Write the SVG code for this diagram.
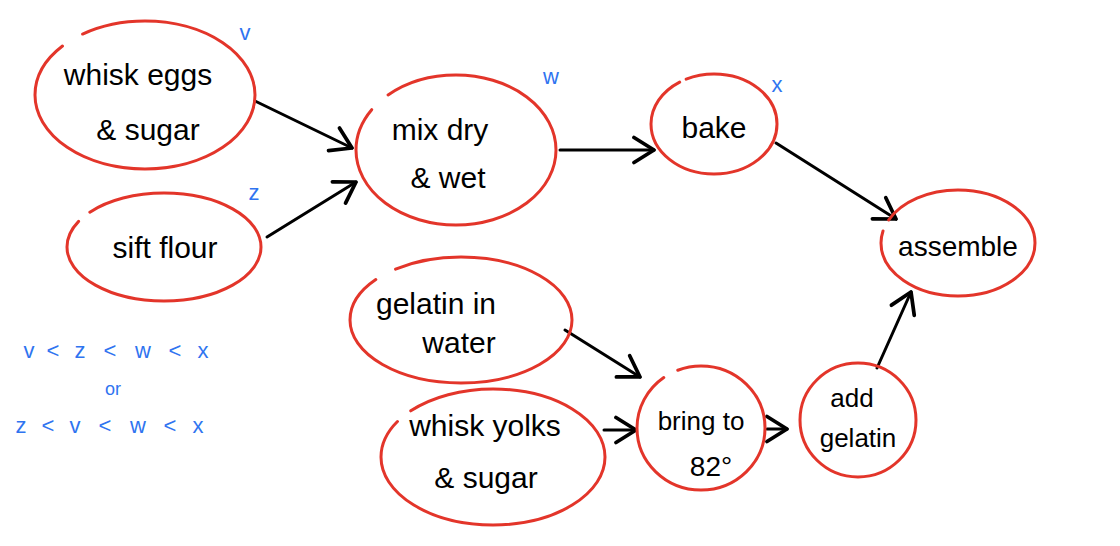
<svg xmlns="http://www.w3.org/2000/svg" width="1120" height="546" viewBox="0 0 1120 546">
<style>
.n{fill:none;stroke:#e3352a;stroke-width:3;stroke-linecap:round}
.t{font-family:"Liberation Sans",Arial,sans-serif;font-size:30px;fill:#000;text-anchor:middle}
.b{font-family:"Liberation Sans",Arial,sans-serif;font-size:22px;fill:#2f74f0;text-anchor:middle}
.e{fill:none;stroke:#000;stroke-width:3;stroke-linecap:round}
</style>
<defs>
<marker id="ah" markerUnits="userSpaceOnUse" markerWidth="30" markerHeight="30" viewBox="0 0 24 24" refX="20" refY="12" orient="auto">
<path d="M4,2 L20,12 L4,22" fill="none" stroke="#000" stroke-width="3" stroke-linecap="round" stroke-linejoin="round"/>
</marker>
</defs>
<rect width="1120" height="546" fill="#fff"/>
<g id="connectors">
<line class="e" x1="255" y1="101" x2="352" y2="148" marker-end="url(#ah)"/>
<line class="e" x1="267" y1="237" x2="356" y2="182" marker-end="url(#ah)"/>
<line class="e" x1="560" y1="150" x2="654" y2="150" marker-end="url(#ah)"/>
<line class="e" x1="776" y1="143" x2="896" y2="219" marker-end="url(#ah)"/>
<line class="e" x1="565" y1="330" x2="640" y2="377" marker-end="url(#ah)"/>
<line class="e" x1="604" y1="430" x2="636" y2="430" marker-end="url(#ah)"/>
<line class="e" x1="767" y1="429" x2="787" y2="429" marker-end="url(#ah)"/>
<line class="e" x1="877" y1="368" x2="911" y2="292" marker-end="url(#ah)"/>
</g>
<g id="n1"><ellipse class="n" cx="145" cy="95" rx="110" ry="74" pathLength="100" stroke-dasharray="96 4" stroke-dashoffset="36"/>
<text class="t" x="138" y="85">whisk eggs</text><text class="t" x="148" y="140">&amp; sugar</text></g>
<g id="n2"><ellipse class="n" cx="164" cy="247" rx="97" ry="54" pathLength="100" stroke-dasharray="97 3" stroke-dashoffset="41"/>
<text class="t" x="165" y="258">sift flour</text></g>
<g id="n3"><ellipse class="n" cx="456" cy="150" rx="100" ry="75" pathLength="100" stroke-dasharray="96 4" stroke-dashoffset="38"/>
<text class="t" x="440" y="140">mix dry</text><text class="t" x="448" y="188">&amp; wet</text></g>
<g id="n4"><ellipse class="n" cx="714" cy="124" rx="63" ry="50" pathLength="100" stroke-dasharray="98 2" stroke-dashoffset="33"/>
<text class="t" x="714" y="138">bake</text></g>
<g id="n5"><ellipse class="n" cx="958" cy="243" rx="77" ry="53" pathLength="100" stroke-dasharray="97 3" stroke-dashoffset="44"/>
<text class="t" x="958" y="256" style="font-size:28px">assemble</text></g>
<g id="n6"><ellipse class="n" cx="461" cy="320" rx="111" ry="63" pathLength="100" stroke-dasharray="96 4" stroke-dashoffset="37"/>
<text class="t" x="436" y="314">gelatin in</text><text class="t" x="459" y="353">water</text></g>
<g id="n7"><ellipse class="n" cx="493" cy="457" rx="112" ry="68" pathLength="100" stroke-dasharray="97 3" stroke-dashoffset="40"/>
<text class="t" x="485" y="436">whisk yolks</text><text class="t" x="486" y="488">&amp; sugar</text></g>
<g id="n8"><ellipse class="n" cx="701" cy="428" rx="64" ry="62" pathLength="100" stroke-dasharray="96 4" stroke-dashoffset="31"/>
<text class="t" x="701" y="430" style="font-size:26px">bring to</text><text class="t" x="711" y="476" style="font-size:28px">82°</text></g>
<g id="n9"><ellipse class="n" cx="858" cy="420" rx="58" ry="57"/>
<text class="t" x="852" y="407" style="font-size:26px">add</text><text class="t" x="858" y="447" style="font-size:26px">gelatin</text></g>
<g id="labels">
<text class="b" x="245" y="40">v</text>
<text class="b" x="551" y="84">w</text>
<text class="b" x="777" y="92">x</text>
<text class="b" x="254" y="200">z</text>
<text class="b" y="358"><tspan x="29">v</tspan><tspan x="53">&lt;</tspan><tspan x="80">z</tspan><tspan x="110">&lt;</tspan><tspan x="143">w</tspan><tspan x="175">&lt;</tspan><tspan x="203">x</tspan></text>
<text class="b" x="113" y="395" style="font-size:18px">or</text>
<text class="b" y="433"><tspan x="21">z</tspan><tspan x="48">&lt;</tspan><tspan x="75">v</tspan><tspan x="105">&lt;</tspan><tspan x="138">w</tspan><tspan x="170">&lt;</tspan><tspan x="198">x</tspan></text>
</g>
</svg>
